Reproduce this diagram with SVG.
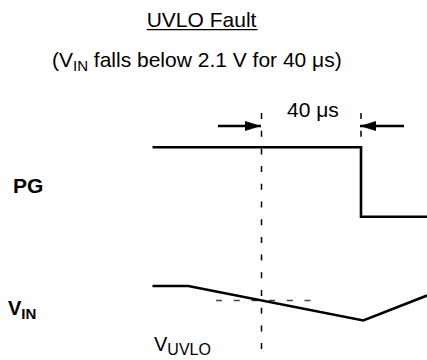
<svg xmlns="http://www.w3.org/2000/svg" width="427" height="360" viewBox="0 0 427 360">
<defs>
<style>
.t{font-family:"Liberation Sans",Arial,sans-serif;fill:#000;}
.b{font-weight:bold;}
.wave{fill:none;stroke:#000;stroke-width:2.6;stroke-linejoin:miter;}
.dash{fill:none;stroke:#000;stroke-width:1.5;stroke-dasharray:6 11.7;}
.hdash{fill:none;stroke:#444;stroke-width:1.3;stroke-dasharray:6 11.7;}
.arr{fill:none;stroke:#000;stroke-width:2.4;marker-end:url(#ah);}
</style>
<marker id="ah" markerWidth="16" markerHeight="10" refX="16" refY="5" orient="auto" markerUnits="userSpaceOnUse">
<path d="M0,0 L16,5 L0,10 Z" fill="#000"/>
</marker>
</defs>
<rect width="427" height="360" fill="#fff"/>
<g id="title">
<text class="t" x="146.7" y="27" font-size="21">UVLO Fault</text>
<line x1="146.7" y1="29.6" x2="257.5" y2="29.6" stroke="#000" stroke-width="1.3"/>
</g>
<g id="subtitle">
<text class="t" x="52" y="67" font-size="21">(V<tspan font-size="15" dy="4">IN</tspan><tspan dy="-4"> falls below 2.1 V for 40 μs)</tspan></text>
</g>
<g id="labels">
<text class="t b" x="13" y="193" font-size="21">PG</text>
<text class="t b" x="8" y="315" font-size="20">V<tspan font-size="15" dy="4">IN</tspan></text>
<text class="t" x="154" y="351" font-size="20">V<tspan font-size="16" dy="4">UVLO</tspan></text>
<text class="t" x="287" y="117" font-size="21">40 μs</text>
</g>
<g id="connectors">
<line class="dash" x1="261.5" y1="113" x2="261.5" y2="360"/>
<line class="dash" x1="361" y1="113" x2="361" y2="147"/>
<line class="hdash" x1="216" y1="300.5" x2="313" y2="300.5"/>
<line class="arr" x1="218" y1="126" x2="261" y2="126"/>
<line class="arr" x1="404" y1="126" x2="360" y2="126"/>
</g>
<g id="pg-wave">
<polyline class="wave" points="152.5,147.3 361,147.3 361,216.7 427,216.7"/>
</g>
<g id="vin-wave">
<polyline class="wave" points="152.5,286 188.3,286 363.3,320.5 427,295.5"/>
</g>
</svg>
